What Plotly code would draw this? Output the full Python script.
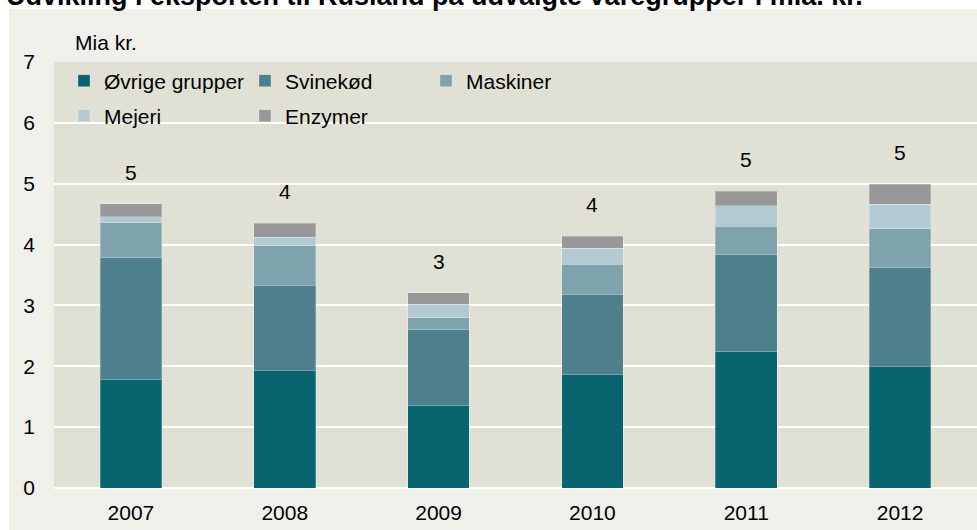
import plotly.graph_objects as go

years = ["2007", "2008", "2009", "2010", "2011", "2012"]
ovrige = [1.79, 1.93, 1.35, 1.86, 2.25, 1.99]
svinekod = [1.99, 1.40, 1.25, 1.32, 1.58, 1.63]
maskiner = [0.58, 0.65, 0.20, 0.50, 0.47, 0.64]
mejeri = [0.10, 0.14, 0.22, 0.26, 0.34, 0.40]
enzymer = [0.21, 0.23, 0.19, 0.20, 0.24, 0.33]
y_ticks = [0, 1, 2, 3, 4, 5, 6, 7]

series = [
    ("Øvrige grupper", ovrige, "#086570", "legend"),
    ("Svinekød", svinekod, "#4E7F8C", "legend"),
    ("Maskiner", maskiner, "#7FA3AC", "legend"),
    ("Mejeri", mejeri, "#B4CAD3", "legend2"),
    ("Enzymer", enzymer, "#989898", "legend2"),
]

FONT = "Liberation Sans, Arial, sans-serif"
FS = 21
W, H = 977, 530
ML, MR, MT, MB = 54, 0, 62, 42
PW, PH = W - ML - MR, H - MT - MB

fig = go.Figure()
for name, vals, color, leg in series:
    fig.add_trace(go.Bar(
        x=years, y=vals, name=name, legend=leg,
        marker=dict(color=color, line=dict(color="rgba(255,255,255,0.25)", width=1)),
    ))

totals = [sum(v) for v in zip(ovrige, svinekod, maskiner, mejeri, enzymer)]
for i, t in enumerate(totals):
    # category axis: annotation x given as the category's serial number
    fig.add_annotation(x=i, y=t, text=str(int(round(t))), showarrow=False,
                       yanchor="bottom", yshift=18,
                       font=dict(family=FONT, size=FS, color="#000"))

def px_x(px):
    return (px - ML) / PW

def px_y(py):
    return (H - MB - py) / PH

fig.add_annotation(xref="paper", yref="paper", x=px_x(73), y=px_y(42),
                   xanchor="left", yanchor="middle", text="Mia kr.", showarrow=False,
                   font=dict(family=FONT, size=FS, color="#000"))

fig.add_annotation(xref="paper", yref="paper", x=px_x(4), y=px_y(13),
                   xanchor="left", yanchor="bottom", showarrow=False,
                   text="<b>Udvikling i eksporten til Rusland på udvalgte varegrupper i mia. kr.</b>",
                   font=dict(family=FONT, size=27, color="#000"))

# white strips outside the light frame
fig.add_shape(type="rect", xref="paper", yref="paper", x0=px_x(0), x1=px_x(W), y0=px_y(9), y1=px_y(0),
              fillcolor="white", line=dict(width=0), layer="below")
fig.add_shape(type="rect", xref="paper", yref="paper", x0=px_x(0), x1=px_x(9), y0=px_y(H), y1=px_y(0),
              fillcolor="white", line=dict(width=0), layer="below")

leg_common = dict(orientation="h", xanchor="left", yanchor="middle",
                  entrywidth=136, entrywidthmode="pixels", traceorder="normal",
                  bgcolor="rgba(0,0,0,0)", font=dict(family=FONT, size=FS, color="#000"))

fig.update_layout(
    width=W, height=H,
    margin=dict(l=ML, r=MR, t=MT, b=MB),
    barmode="stack", bargap=0.6,
    paper_bgcolor="#F0F0EA", plot_bgcolor="#E0E0D5",
    font=dict(family=FONT, size=FS, color="#000"),
    legend=dict(x=px_x(64), y=px_y(81), **leg_common),
    legend2=dict(x=px_x(64), y=px_y(116), **leg_common),
    xaxis=dict(type="category", showgrid=False, ticks="", tickfont=dict(size=FS),
               ticklabelstandoff=10, showline=False, fixedrange=True),
    yaxis=dict(range=[0, 7], tickvals=y_ticks, showgrid=True, gridcolor="white", gridwidth=2,
               zeroline=True, zerolinecolor="white", zerolinewidth=2,
               ticks="", tickfont=dict(size=FS), ticklabelstandoff=18, fixedrange=True),
    showlegend=True,
)

fig.write_html("out.html", config={"displayModeBar": False},
               post_script="document.body.style.margin='0';document.body.style.overflow='hidden';")
